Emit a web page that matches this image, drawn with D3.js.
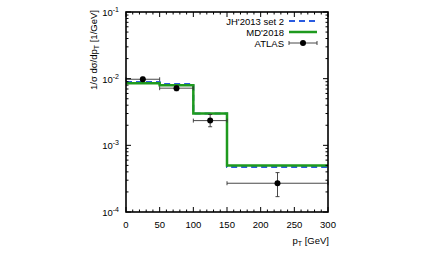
<!DOCTYPE html>
<html><head><meta charset="utf-8">
<script src="https://cdn.jsdelivr.net/npm/d3@7"></script>
<style>body{margin:0;background:#fff}svg{display:block}text{font-family:"Liberation Sans",Arial,sans-serif;}</style>
</head><body>
<script>
const binEdges = [0, 50, 100, 150, 300];
const jhValues = [8.9e-3, 8.35e-3, 3.0e-3, 4.75e-4];
const mdValues = [8.5e-3, 7.95e-3, 3.0e-3, 5.0e-4];
const atlasX = [25, 75, 125, 225];
const atlasXLo = [0, 50, 100, 150];
const atlasXHi = [50, 100, 150, 300];
const atlasY = [9.8e-3, 7.2e-3, 2.35e-3, 2.7e-4];
const atlasYLo = [9.1e-3, 6.6e-3, 1.9e-3, 1.7e-4];
const atlasYHi = [10.5e-3, 7.8e-3, 2.9e-3, 3.9e-4];
const xTicks = [0, 50, 100, 150, 200, 250, 300];
const yDecades = [-4, -3, -2, -1];
const legendLabels = ["JH'2013 set 2", "MD'2018", "ATLAS"];

const W = 431, H = 258;
const L = 126, R = 328, T = 12, B = 212;
const svg = d3.select("body").append("svg").attr("width", W).attr("height", H);
const x = d3.scaleLinear().domain([0, 300]).range([L, R]);
const y = d3.scaleLog().domain([1e-4, 1e-1]).range([B, T]);

function stepLine(vals) {
  const pts = [];
  vals.forEach((v, i) => { pts.push([binEdges[i], v]); pts.push([binEdges[i + 1], v]); });
  return d3.line().x(d => x(d[0])).y(d => y(d[1]))(pts);
}
const plot = svg.append("g");
plot.append("path").attr("d", stepLine(jhValues)).attr("fill", "none")
  .attr("stroke", "#2a5be0").attr("stroke-width", 2).attr("stroke-dasharray", "6,4");
plot.append("path").attr("d", stepLine(mdValues)).attr("fill", "none")
  .attr("stroke", "#1e9a1e").attr("stroke-width", 2.5);
const eg = plot.append("g").attr("stroke", "#333").attr("stroke-width", 0.9);
atlasX.forEach((xv, i) => {
  eg.append("line").attr("x1", x(atlasXLo[i])).attr("x2", x(atlasXHi[i])).attr("y1", y(atlasY[i])).attr("y2", y(atlasY[i]));
  eg.append("line").attr("x1", x(atlasXLo[i])).attr("x2", x(atlasXLo[i])).attr("y1", y(atlasY[i]) - 2).attr("y2", y(atlasY[i]) + 2);
  eg.append("line").attr("x1", x(atlasXHi[i])).attr("x2", x(atlasXHi[i])).attr("y1", y(atlasY[i]) - 2).attr("y2", y(atlasY[i]) + 2);
  eg.append("line").attr("x1", x(xv)).attr("x2", x(xv)).attr("y1", y(atlasYLo[i])).attr("y2", y(atlasYHi[i]));
  eg.append("line").attr("x1", x(xv) - 2).attr("x2", x(xv) + 2).attr("y1", y(atlasYLo[i])).attr("y2", y(atlasYLo[i]));
  eg.append("line").attr("x1", x(xv) - 2).attr("x2", x(xv) + 2).attr("y1", y(atlasYHi[i])).attr("y2", y(atlasYHi[i]));
  plot.append("circle").attr("cx", x(xv)).attr("cy", y(atlasY[i])).attr("r", 3).attr("fill", "#000");
});

const ax = svg.append("g").attr("stroke", "#000");
const minorX = d3.range(0, 301, 10).filter(v => v % 50 !== 0);
xTicks.forEach(v => {
  ax.append("line").attr("x1", x(v)).attr("x2", x(v)).attr("y1", B).attr("y2", B - 5).attr("stroke-width", 1);
  ax.append("line").attr("x1", x(v)).attr("x2", x(v)).attr("y1", T).attr("y2", T + 5).attr("stroke-width", 1);
});
minorX.forEach(v => {
  ax.append("line").attr("x1", x(v)).attr("x2", x(v)).attr("y1", B).attr("y2", B - 2.5).attr("stroke-width", 1);
  ax.append("line").attr("x1", x(v)).attr("x2", x(v)).attr("y1", T).attr("y2", T + 2.5).attr("stroke-width", 1);
});
yDecades.forEach(d => {
  const v = Math.pow(10, d);
  ax.append("line").attr("x1", L).attr("x2", L + 5).attr("y1", y(v)).attr("y2", y(v)).attr("stroke-width", 1);
  ax.append("line").attr("x1", R).attr("x2", R - 5).attr("y1", y(v)).attr("y2", y(v)).attr("stroke-width", 1);
  if (d < -1) {
    for (let k = 2; k <= 9; k++) {
      const mv = k * v;
      ax.append("line").attr("x1", L).attr("x2", L + 2.5).attr("y1", y(mv)).attr("y2", y(mv)).attr("stroke-width", 1);
      ax.append("line").attr("x1", R).attr("x2", R - 2.5).attr("y1", y(mv)).attr("y2", y(mv)).attr("stroke-width", 1);
    }
  }
});
svg.append("rect").attr("x", L).attr("y", T).attr("width", R - L).attr("height", B - T)
  .attr("fill", "none").attr("stroke", "#000").attr("stroke-width", 1.6);

xTicks.forEach(v => {
  svg.append("text").attr("x", x(v)).attr("y", B + 15.5).attr("text-anchor", "middle")
    .attr("font-size", 9.5).attr("fill", "#000").text(v);
});
yDecades.forEach(d => {
  const t = svg.append("text").attr("x", L - 7).attr("y", y(Math.pow(10, d)) + 4).attr("text-anchor", "end")
    .attr("font-size", 9.5).attr("fill", "#000");
  t.append("tspan").text("10");
  t.append("tspan").attr("dy", -4).attr("font-size", 7).text(String(d));
});

const yl = svg.append("text").attr("transform", `translate(97,50) rotate(-90)`)
  .attr("text-anchor", "middle").attr("font-size", 9.5).attr("fill", "#000");
yl.append("tspan").text("1/σ dσ/dp");
yl.append("tspan").attr("dy", 2).attr("font-size", 7).text("T");
yl.append("tspan").attr("dy", -2).text(" [1/GeV]");
const xl = svg.append("text").attr("x", R + 1).attr("y", B + 32).attr("text-anchor", "end")
  .attr("font-size", 9.5).attr("fill", "#000");
xl.append("tspan").text("p");
xl.append("tspan").attr("dy", 2).attr("font-size", 7).text("T");
xl.append("tspan").attr("dy", -2).text(" [GeV]");

const lx1 = 289, lx2 = 317;
const ly = [21, 32, 43];
legendLabels.forEach((s, i) => {
  svg.append("text").attr("x", 284).attr("y", ly[i] + 3.5).attr("text-anchor", "end")
    .attr("font-size", 9.5).attr("fill", "#000").text(s);
});
svg.append("line").attr("x1", lx1).attr("x2", lx2).attr("y1", ly[0]).attr("y2", ly[0])
  .attr("stroke", "#2a5be0").attr("stroke-width", 2).attr("stroke-dasharray", "6,4");
svg.append("line").attr("x1", lx1).attr("x2", lx2).attr("y1", ly[1]).attr("y2", ly[1])
  .attr("stroke", "#1e9a1e").attr("stroke-width", 2.5);
const lg = svg.append("g").attr("stroke", "#333").attr("stroke-width", 0.9);
lg.append("line").attr("x1", lx1).attr("x2", lx2).attr("y1", ly[2]).attr("y2", ly[2]);
lg.append("line").attr("x1", lx1).attr("x2", lx1).attr("y1", ly[2] - 2).attr("y2", ly[2] + 2);
lg.append("line").attr("x1", lx2).attr("x2", lx2).attr("y1", ly[2] - 2).attr("y2", ly[2] + 2);
svg.append("circle").attr("cx", (lx1 + lx2) / 2).attr("cy", ly[2]).attr("r", 3).attr("fill", "#000");
</script>
</body></html>
